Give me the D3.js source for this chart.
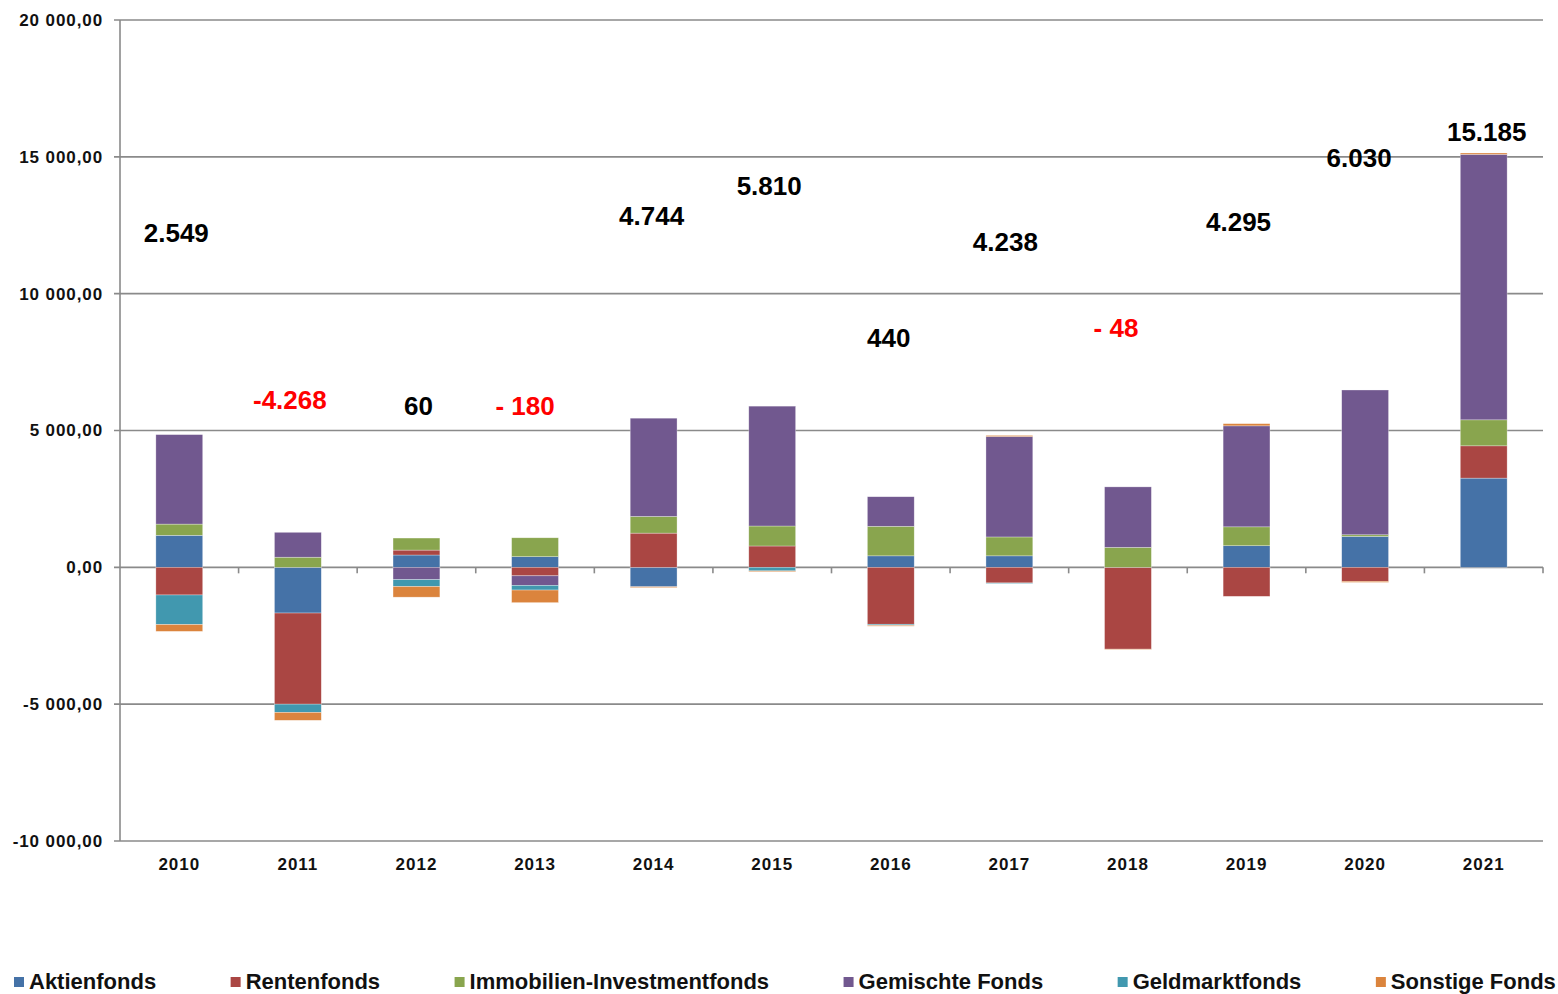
<!DOCTYPE html>
<html>
<head>
<meta charset="utf-8">
<script src="https://cdn.jsdelivr.net/npm/d3@7"></script>
<style>
  html, body { margin: 0; padding: 0; background: #fff; overflow: hidden; }
  svg { display: block; font-family: "Liberation Sans", Arial, sans-serif; }
</style>
</head>
<body>
<svg id="chart" width="1558" height="994"></svg>
<script>
// ---- data ----
const years = ["2010","2011","2012","2013","2014","2015","2016","2017","2018","2019","2020","2021"];
const seriesNames = ["Aktienfonds","Rentenfonds","Immobilien-Investmentfonds","Gemischte Fonds","Geldmarktfonds","Sonstige Fonds"];
const aktienfonds    = [1170, -1670,  450,  390, -710,    0,   420,   420,     0,   790, 1130, 3260];
const rentenfonds    = [-1010, -3330, 180, -310, 1250,  780, -2080,  -570, -2990, -1060, -510, 1180];
const immobilien     = [410,    370,  440,  690,  610,  730,  1080,   690,   730,   690,   60,  950];
const gemischte      = [3270,   910, -450, -350, 3590, 4380,  1080,  3670,  2210,  3690, 5290, 9700];
const geldmarkt      = [-1080, -300, -250, -170,    0, -130,   -40,   -20,     0,     0,    0,    0];
const sonstige       = [-250,  -290, -390, -460,  -30,  -30,   -30,    40,   -20,    80,  -40,   50];
const totalLabels    = ["2.549","-4.268","60","- 180","4.744","5.810","440","4.238","- 48","4.295","6.030","15.185"];
const totalNegative  = [false, true, false, true, false, false, false, false, true, false, false, false];
const labelLevel     = [12230, 6120, 5900, 5900, 12840, 13930, 8390, 11890, 8750, 12620, 14960, 15910];
const labelShift     = [-3, -8, 2, -10, -2, -3, -2, -4, -12, -8, -6, 3];
const yTicks         = [-10000, -5000, 0, 5000, 10000, 15000, 20000];
const colors         = ["#4572A7","#AA4643","#89A54E","#71588F","#4198AF","#DB843D"];

(function () {
// ---- layout ----
const svg = d3.select("#chart");
const plotL = 120, plotR = 1543, plotT = 20, plotB = 841;
const gridColor = "#8a8a8a";

const x = d3.scaleBand().domain(years).range([plotL, plotR]).padding(0);
const y = d3.scaleLinear().domain([-10000, 20000]).range([plotB, plotT]);

const seriesArrays = [aktienfonds, rentenfonds, immobilien, gemischte, geldmarkt, sonstige];
const table = years.map((yr, i) => {
  const row = { year: yr };
  seriesNames.forEach((s, k) => row[s] = seriesArrays[k][i]);
  return row;
});
const stacked = d3.stack().keys(seriesNames).offset(d3.stackOffsetDiverging)(table);

const loc = d3.formatLocale({decimal: ",", thousands: " ", grouping: [3], currency: ["", ""], minus: "-"});
const fmt = loc.format(",.2f");

// gridlines
svg.append("g").selectAll("line").data(yTicks).join("line")
  .attr("x1", plotL - 6).attr("x2", plotR)
  .attr("y1", d => y(d)).attr("y2", d => y(d))
  .attr("stroke", gridColor).attr("stroke-width", 1.6);

// y axis line
svg.append("line").attr("x1", plotL).attr("x2", plotL).attr("y1", plotT).attr("y2", plotB)
  .attr("stroke", gridColor).attr("stroke-width", 1.6);

// category tick marks on zero line
svg.append("g").selectAll("line").data(years).join("line")
  .attr("x1", d => x(d) + x.bandwidth()).attr("x2", d => x(d) + x.bandwidth())
  .attr("y1", y(0)).attr("y2", y(0) + 6)
  .attr("stroke", gridColor).attr("stroke-width", 1.6);

// y tick labels
svg.append("g").selectAll("text").data(yTicks).join("text")
  .attr("x", 103).attr("y", d => y(d))
  .attr("dy", "0.35em").attr("text-anchor", "end")
  .attr("font-size", 17).attr("font-weight", "bold").attr("letter-spacing", 0.9)
  .attr("fill", "#111")
  .text(d => fmt(d));

// bars
const barW = x.bandwidth() * 0.395;
svg.append("g").selectAll("g").data(stacked).join("g")
  .attr("fill", (d, i) => colors[i])
  .selectAll("rect").data(d => d).join("rect")
  .attr("x", d => x(d.data.year) + (x.bandwidth() - barW) / 2)
  .attr("width", barW)
  .attr("y", d => y(Math.max(d[0], d[1])))
  .attr("height", d => Math.abs(y(d[0]) - y(d[1])))
  .attr("stroke", "#ffffff").attr("stroke-opacity", 0.5).attr("stroke-width", 0.6);

// x labels
svg.append("g").selectAll("text").data(years).join("text")
  .attr("x", d => x(d) + x.bandwidth() / 2).attr("y", 864)
  .attr("dy", "0.35em").attr("text-anchor", "middle")
  .attr("font-size", 17).attr("font-weight", "bold").attr("letter-spacing", 1.0)
  .attr("fill", "#111")
  .text(d => d);

// total labels
svg.append("g").selectAll("text").data(years).join("text")
  .attr("x", (d, i) => x(d) + x.bandwidth() / 2 + labelShift[i])
  .attr("y", (d, i) => y(labelLevel[i]))
  .attr("dy", "0.35em").attr("text-anchor", "middle")
  .attr("font-size", 26).attr("font-weight", "bold")
  .attr("fill", (d, i) => totalNegative[i] ? "#FF0000" : "#000")
  .text((d, i) => totalLabels[i]);

// legend
const leg = svg.append("g");
let lx = 14;
seriesNames.forEach((name, i) => {
  leg.append("rect").attr("x", lx).attr("y", 977).attr("width", 10).attr("height", 10).attr("fill", colors[i]);
  const t = leg.append("text").attr("x", lx + 15).attr("y", 988.5)
    .attr("font-size", 22).attr("font-weight", "bold").attr("fill", "#111").text(name);
  lx = lx + 15 + t.node().getComputedTextLength() + 74.5;
});
})();
</script>
</body>
</html>
